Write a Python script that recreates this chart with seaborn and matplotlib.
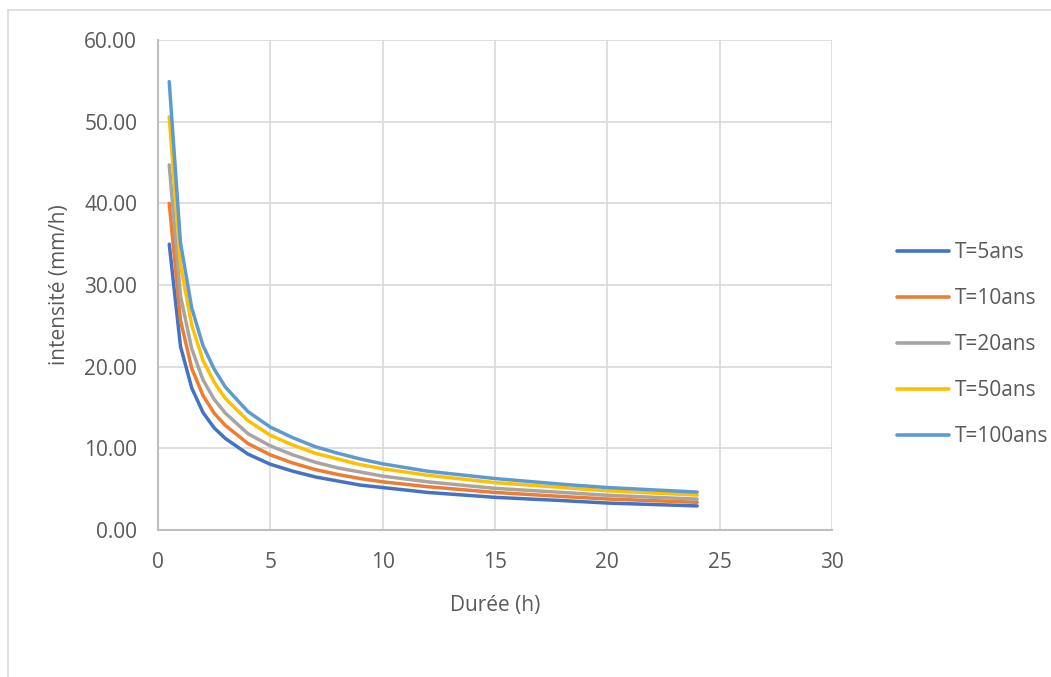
import matplotlib
matplotlib.use("Agg")
import matplotlib.pyplot as plt
import seaborn as sns
import pandas as pd
from matplotlib.lines import Line2D

durations = [0.5, 1, 1.5, 2, 2.5, 3, 4, 5, 6, 7, 8, 9, 10, 12, 15, 18, 20, 24]
t5 = [35.0, 22.5, 17.4, 14.4, 12.5, 11.2, 9.3, 8.05, 7.2, 6.5, 6.0, 5.5, 5.2, 4.6, 4.0, 3.6, 3.3, 2.95]
t10 = [40.0, 25.7, 19.8, 16.5, 14.3, 12.8, 10.6, 9.2, 8.2, 7.4, 6.8, 6.3, 5.9, 5.3, 4.6, 4.1, 3.8, 3.39]
t20 = [44.7, 28.7, 22.2, 18.4, 16.0, 14.3, 11.8, 10.3, 9.2, 8.3, 7.6, 7.1, 6.6, 5.9, 5.1, 4.6, 4.25, 3.78]
t50 = [50.6, 32.5, 25.1, 20.8, 18.1, 16.1, 13.4, 11.6, 10.4, 9.4, 8.7, 8.0, 7.5, 6.7, 5.8, 5.2, 4.8, 4.28]
t100 = [54.9, 35.2, 27.2, 22.6, 19.7, 17.5, 14.5, 12.6, 11.3, 10.2, 9.4, 8.7, 8.1, 7.2, 6.3, 5.6, 5.2, 4.64]
series_names = ["T=5ans", "T=10ans", "T=20ans", "T=50ans", "T=100ans"]
series_values = [t5, t10, t20, t50, t100]
colors = ["#4472C4", "#ED7D31", "#A5A5A5", "#FFC000", "#5B9BD5"]
x_ticks = [0, 5, 10, 15, 20, 25, 30]
y_ticks = [0, 10, 20, 30, 40, 50, 60]

rows = []
for name, vals in zip(series_names, series_values):
    for d, v in zip(durations, vals):
        rows.append({"Durée": d, "intensité": v, "serie": name})
df = pd.DataFrame(rows)

sns.set_style("white")
plt.rcParams["font.family"] = ["Open Sans", "DejaVu Sans"]

fig = plt.figure(figsize=(10.51, 6.77), dpi=100)
ax = fig.add_axes([158 / 1051, 1 - 530 / 677, (832 - 158) / 1051, (530 - 40) / 677])

sns.lineplot(data=df, x="Durée", y="intensité", hue="serie", hue_order=series_names,
             palette=colors, linewidth=2.5, ax=ax, legend=False, sort=True)
for ln in ax.get_lines():
    ln.set_solid_joinstyle("round")
    ln.set_solid_capstyle("round")

ax.set_xlim(0, 30)
ax.set_ylim(0, 60)
ax.set_xticks(x_ticks)
ax.set_yticks(y_ticks)
ax.set_yticklabels([f"{v:.2f}" for v in y_ticks])
ax.grid(True, color="#D9D9D9", linewidth=1.2)
ax.set_axisbelow(True)
for s in ["top", "right"]:
    ax.spines[s].set_visible(False)
for s in ["left", "bottom"]:
    ax.spines[s].set_color("#BFBFBF")
    ax.spines[s].set_linewidth(1.5)
ax.tick_params(axis="both", length=0, labelsize=15, colors="#595959")
ax.tick_params(axis="y", pad=15)
ax.tick_params(axis="x", pad=16)
ax.set_xlabel("Durée (h)", fontsize=15, color="#595959", labelpad=16)
ax.set_ylabel("intensité (mm/h)", fontsize=15, color="#595959", labelpad=10)

handles = [Line2D([0], [0], color=c, linewidth=2.6, solid_capstyle="round") for c in colors]
fig.legend(handles, series_names, loc="center left", bbox_to_anchor=(878 / 1051, 1 - 345 / 677),
           frameon=False, fontsize=15, labelcolor="#595959", handlelength=2.5,
           handletextpad=0.3, labelspacing=1.2)

# outer chart border
fig.add_artist(Line2D([8 / 1051, 1], [1 - 10 / 677, 1 - 10 / 677], color="#D9D9D9", linewidth=1.2,
                      transform=fig.transFigure))
fig.add_artist(Line2D([8 / 1051, 8 / 1051], [0, 1 - 10 / 677], color="#D9D9D9", linewidth=1.2,
                      transform=fig.transFigure))

fig.savefig("out.png", dpi=100)
